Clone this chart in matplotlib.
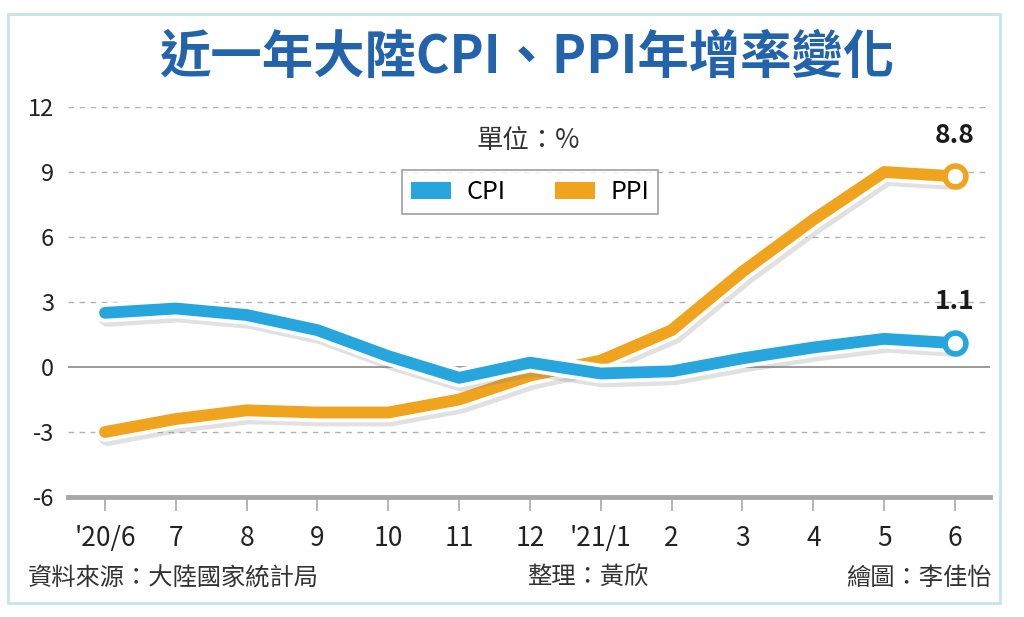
import matplotlib
matplotlib.use("Agg")
import matplotlib.pyplot as plt
import matplotlib.patheffects as pe
from matplotlib.patches import Patch, Rectangle

plt.rcParams["font.family"] = ["Noto Sans CJK TC", "DejaVu Sans"]

# ----
# Data
# ----
months = ["'20/6", "7", "8", "9", "10", "11", "12", "'21/1", "2", "3", "4", "5", "6"]
cpi = [2.5, 2.7, 2.4, 1.7, 0.5, -0.5, 0.2, -0.3, -0.2, 0.4, 0.9, 1.3, 1.1]
ppi = [-3.0, -2.4, -2.0, -2.1, -2.1, -1.5, -0.4, 0.3, 1.7, 4.4, 6.8, 9.0, 8.8]
yticks = [-6, -3, 0, 3, 6, 9, 12]

CPI_COLOR = "#27a6de"
PPI_COLOR = "#f0a41e"
TITLE_COLOR = "#2263ac"
GRID_COLOR = "#b0b0b0"

W, H = 1024, 617
fig = plt.figure(figsize=(W / 100, H / 100), dpi=100)
fig.patch.set_facecolor("white")

# outer frame
fig.patches.append(Rectangle((8 / W, 1 - 603 / H), 992 / W, 589 / H,
                             transform=fig.transFigure, fill=False,
                             edgecolor="#c4e6e4", linewidth=2))

ax = fig.add_axes([68 / W, 1 - 497 / H, 922 / W, 390 / H])
x = list(range(len(months)))

ax.set_xlim(-0.522, 12.494)
ax.set_ylim(-6, 12)

# grid
for v in yticks[1:]:
    if v == 0:
        ax.axhline(v, color="#9a9a9a", lw=1.4, zorder=1)
    else:
        ax.axhline(v, color=GRID_COLOR, lw=1.0, ls=(0, (4, 4)), zorder=1)

for s in ["top", "right", "left"]:
    ax.spines[s].set_visible(False)
ax.spines["bottom"].set_color("#a8a8a8")
ax.spines["bottom"].set_linewidth(3.5)

ax.set_xticks(x)
ax.set_xticklabels(months, fontsize=19, color="#222222")
ax.set_yticks(yticks)
ax.set_yticklabels([str(v) for v in yticks], fontsize=17, color="#222222")
ax.tick_params(axis="x", direction="out", length=10, width=1.2, color="#a8a8a8", pad=10)
ax.tick_params(axis="y", length=0, pad=10)


def line_effects():
    return [
        pe.SimpleLineShadow(offset=(2, -3), shadow_color="#7a7a7a", alpha=0.22, linewidth=14),
        pe.Stroke(linewidth=14, foreground="white"),
        pe.Normal(),
    ]


ax.plot(x, ppi, color=PPI_COLOR, lw=8.5, solid_capstyle="round",
        solid_joinstyle="round", path_effects=line_effects(), zorder=3)
ax.plot(x, cpi, color=CPI_COLOR, lw=8.5, solid_capstyle="round",
        solid_joinstyle="round", path_effects=line_effects(), zorder=4)

# end markers
ax.plot(x[-1], ppi[-1], "o", ms=15, mfc="white", mec=PPI_COLOR, mew=4, zorder=5)
ax.plot(x[-1], cpi[-1], "o", ms=15, mfc="white", mec=CPI_COLOR, mew=4, zorder=5)
ax.annotate(f"{ppi[-1]}", (x[-1], ppi[-1]), xytext=(0, 20), textcoords="offset points",
            ha="center", va="bottom", fontsize=19, fontweight="bold", color="#1a1a1a")
ax.annotate(f"{cpi[-1]}", (x[-1], cpi[-1]), xytext=(0, 20), textcoords="offset points",
            ha="center", va="bottom", fontsize=19, fontweight="bold", color="#1a1a1a")

# legend
handles = [Patch(facecolor=CPI_COLOR, label="CPI"), Patch(facecolor=PPI_COLOR, label="PPI")]
leg = fig.legend(handles=handles, ncol=2, loc="center", bbox_to_anchor=(530 / W, 1 - 192 / H),
                 fontsize=18, frameon=True, fancybox=False, handlelength=1.6,
                 handleheight=0.7, columnspacing=2.0, borderpad=0.35, handletextpad=0.6)
leg.get_frame().set_edgecolor("#888888")
leg.get_frame().set_linewidth(1.2)

# texts
fig.text(527 / W, 1 - 58 / H, "近一年大陸CPI、PPI年增率變化", ha="center", va="center",
         fontsize=37, fontweight="bold", color=TITLE_COLOR)
fig.text(528 / W, 1 - 140 / H, "單位：%", ha="center", va="center",
         fontsize=19, color="#333333")
fig.text(28 / W, 1 - 578 / H, "資料來源：大陸國家統計局", ha="left", va="center",
         fontsize=17.5, color="#333333")
fig.text(588 / W, 1 - 578 / H, "整理：黃欣", ha="center", va="center",
         fontsize=17.5, color="#333333")
fig.text(992 / W, 1 - 578 / H, "繪圖：李佳怡", ha="right", va="center",
         fontsize=17.5, color="#333333")

fig.savefig("out.png", dpi=100, facecolor="white")
